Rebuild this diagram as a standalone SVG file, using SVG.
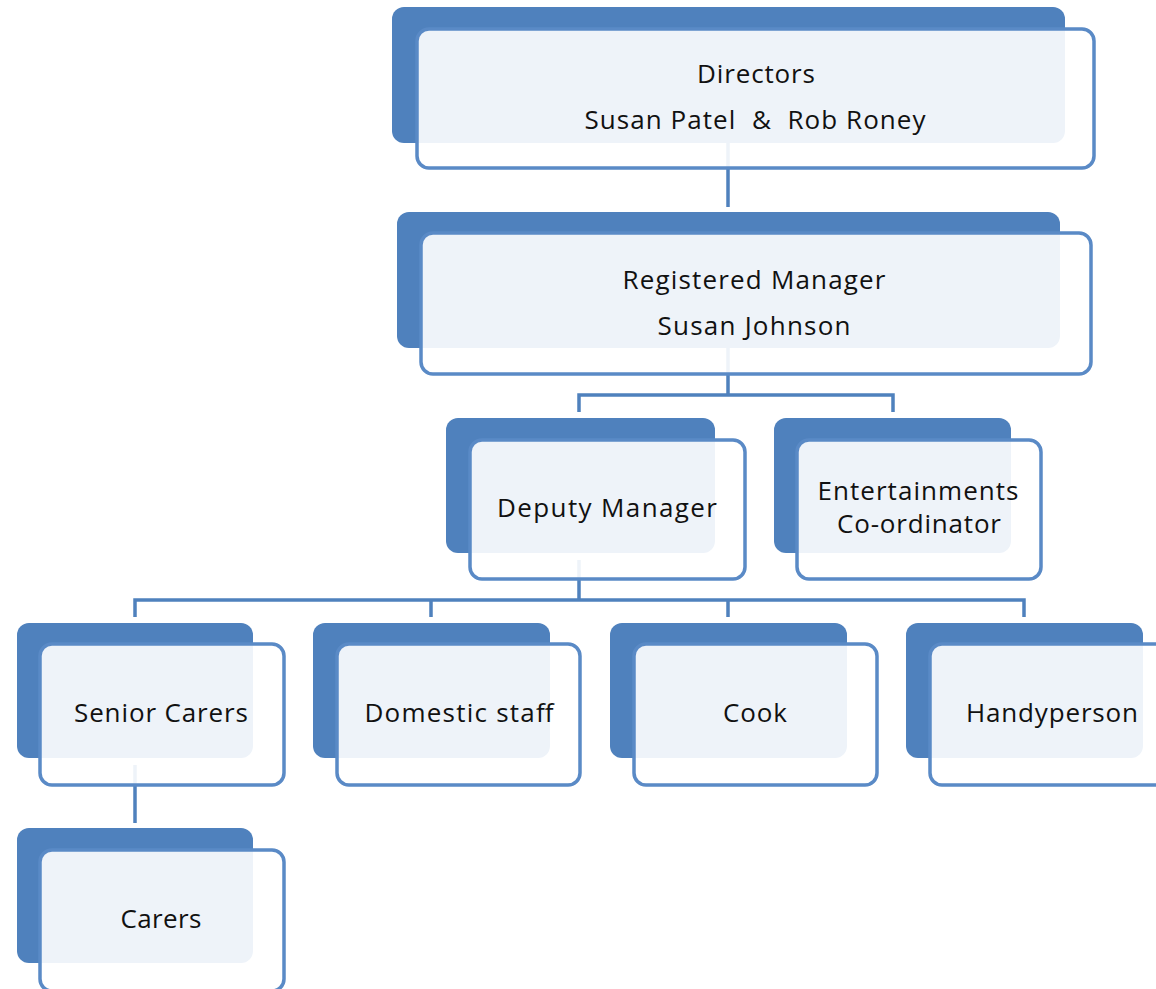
<svg xmlns="http://www.w3.org/2000/svg" width="1156" height="989" viewBox="0 0 1156 989">
<style>
.back{fill:#4F81BD}
.front{fill:#ffffff;fill-opacity:0.9;stroke:#5A8AC6;stroke-width:3.5}
.conn{fill:none;stroke:#4F81BD;stroke-width:3.5}
text{font-family:"Open Sans","Noto Sans","Liberation Sans",sans-serif;font-size:26px;fill:#111;text-anchor:middle}
</style>
<rect width="1156" height="989" fill="#ffffff"/>
<g id="connectors">
<path class="conn" d="M728,143V207"/>
<path class="conn" d="M728,348V395M579,412V395H893V412"/>
<path class="conn" d="M579,560V600M135,617V600H1024V617M431,600V617M728,600V617"/>
<path class="conn" d="M135,765V823"/>
</g>
<g id="directors">
<rect class="back" x="392" y="7" width="673" height="136" rx="12"/>
<rect class="front" x="417" y="29" width="677" height="139" rx="12"/>
<text x="756" y="83" textLength="118" lengthAdjust="spacing">Directors</text>
<text x="755" y="129" textLength="341" lengthAdjust="spacing" xml:space="preserve">Susan Patel  &amp;  Rob Roney</text>
</g>
<g id="registered-manager">
<rect class="back" x="397" y="212" width="663" height="136" rx="12"/>
<rect class="front" x="421" y="233" width="670" height="141" rx="12"/>
<text x="754" y="289" textLength="263" lengthAdjust="spacing">Registered Manager</text>
<text x="754" y="335" textLength="193" lengthAdjust="spacing">Susan Johnson</text>
</g>
<g id="deputy-manager">
<rect class="back" x="446" y="418" width="269" height="135" rx="12"/>
<rect class="front" x="470" y="440" width="275" height="139" rx="12"/>
<text x="607" y="517" textLength="220" lengthAdjust="spacing">Deputy Manager</text>
</g>
<g id="entertainments">
<rect class="back" x="774" y="418" width="237" height="135" rx="12"/>
<rect class="front" x="797" y="440" width="244" height="139" rx="12"/>
<text x="918" y="500" textLength="201" lengthAdjust="spacing">Entertainments</text>
<text x="919" y="533" textLength="164" lengthAdjust="spacing">Co-ordinator</text>
</g>
<g id="senior-carers">
<rect class="back" x="17" y="623" width="236" height="135" rx="12"/>
<rect class="front" x="40" y="644" width="244" height="141" rx="12"/>
<text x="161" y="722" textLength="174" lengthAdjust="spacing">Senior Carers</text>
</g>
<g id="domestic-staff">
<rect class="back" x="313" y="623" width="237" height="135" rx="12"/>
<rect class="front" x="337" y="644" width="243" height="141" rx="12"/>
<text x="459" y="722" textLength="189" lengthAdjust="spacing">Domestic staff</text>
</g>
<g id="cook">
<rect class="back" x="610" y="623" width="237" height="135" rx="12"/>
<rect class="front" x="634" y="644" width="243" height="141" rx="12"/>
<text x="755" y="722" textLength="64" lengthAdjust="spacing">Cook</text>
</g>
<g id="handyperson">
<rect class="back" x="906" y="623" width="237" height="135" rx="12"/>
<rect class="front" x="930" y="644" width="243" height="141" rx="12"/>
<text x="1052" y="722" textLength="172" lengthAdjust="spacing">Handyperson</text>
</g>
<g id="carers">
<rect class="back" x="17" y="828" width="236" height="135" rx="12"/>
<rect class="front" x="40" y="850" width="244" height="141" rx="12"/>
<text x="161" y="928" textLength="81" lengthAdjust="spacing">Carers</text>
</g>
</svg>
